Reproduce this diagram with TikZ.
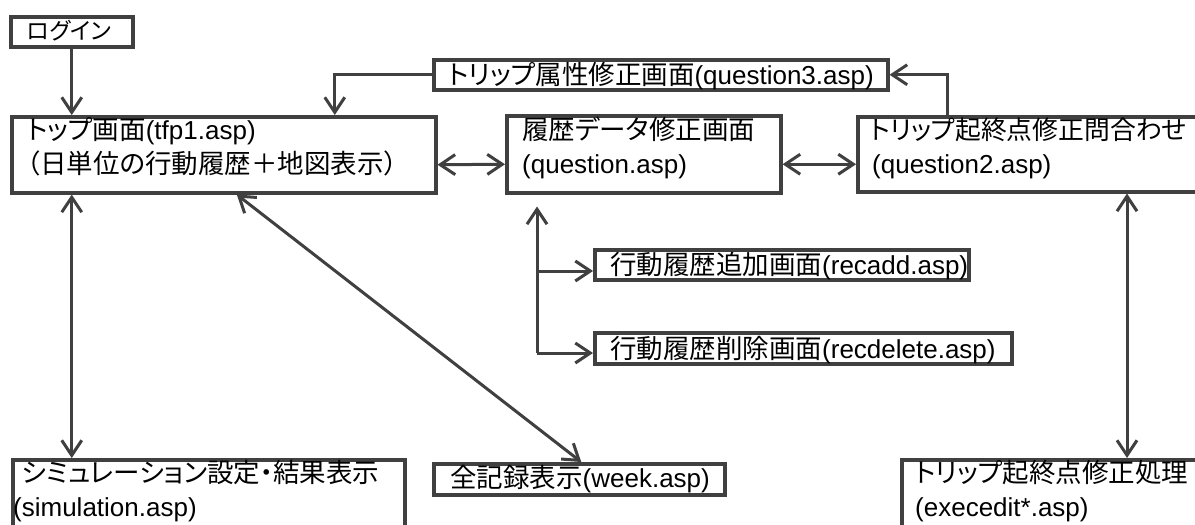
\documentclass[tikz,border=0pt]{standalone}
\usepackage{fontspec}
\setmainfont{Liberation Sans}
\newfontfamily\jp[RawFeature=+palt]{Noto Sans CJK JP}
\newcommand\JP[1]{{\fontsize{26.5}{30}\jp #1}}
\usetikzlibrary{arrows.meta}
\definecolor{ln}{HTML}{404040}
\begin{document}
\begin{tikzpicture}[x=1pt,y=-1pt,
  box/.style={draw=ln, line width=3.5pt, rectangle, inner sep=0pt, anchor=north west},
  txt/.style={anchor=base west, inner sep=0pt, font=\fontsize{26}{30}\selectfont},
  arr/.style={draw=ln, line width=3pt, -{Straight Barb[length=15pt,width=20pt,line width=3pt]}},
  darr/.style={draw=ln, line width=3pt, {Straight Barb[length=15pt,width=20pt,line width=3pt]}-{Straight Barb[length=15pt,width=20pt,line width=3pt]}}]
\useasboundingbox (0,0) rectangle (1195,525);
\clip (0,0) rectangle (1195,525);
\fill[white] (0,0) rectangle (1195,525);
% boxes
\node[box, minimum width=122pt, minimum height=30pt] (login) at (9,15) {};
\node[box, minimum width=424pt, minimum height=76pt] (top) at (10,115) {};
\node[box, minimum width=454pt, minimum height=30pt] (attr) at (432,58) {};
\node[box, minimum width=274pt, minimum height=77pt] (hist) at (505,114) {};
\node[box, minimum width=359pt, minimum height=75pt] (q2) at (856,115) {};
\node[box, minimum width=374pt, minimum height=30pt] (recadd) at (593,248) {};
\node[box, minimum width=417pt, minimum height=31pt] (recdel) at (593,331) {};
\node[box, minimum width=392pt, minimum height=90pt] (sim) at (11,458) {};
\node[box, minimum width=291pt, minimum height=31pt] (week) at (432,462) {};
\node[box, minimum width=315pt, minimum height=90pt] (exec) at (900,458) {};
% texts
\node[txt] (tlogin) at (27,39) {{\fontsize{23}{26}\jp ログイン}};
\node[txt] (ttop1) at (27,139) {\JP{トップ画面}(tfp1.asp)};
\node[txt] (ttop2) at (27,173) {\JP{（日単位の行動履歴＋地図表示）}};
\node[txt] (tattr) at (448,84) {\JP{トリップ属性修正画面}(question3.asp)};
\node[txt] (thist1) at (522,139) {\JP{履歴データ修正画面}};
\node[txt] (thist2) at (522,173) {(question.asp)};
\node[txt] (tq21) at (870,139) {{\fontsize{25.8}{30}\jp トリップ起終点修正問合わせ}};
\node[txt] (tq22) at (872,173) {(question2.asp)};
\node[txt] (trecadd) at (610,274) {\JP{行動履歴追加画面}(recadd.asp)};
\node[txt] (trecdel) at (610,358) {\JP{行動履歴削除画面}(recdelete.asp)};
\node[txt] (tsim1) at (22,482) {\JP{シミュレーション設定・結果表示}};
\node[txt] (tsim2) at (13,516) {(simulation.asp)};
\node[txt] (tweek) at (450,487) {\JP{全記録表示}(week.asp)};
\node[txt] (texec1) at (915,482) {\JP{トリップ起終点修正処理}};
\node[txt] (texec2) at (915,516) {(execedit*.asp)};
% connectors
\coordinate (b1) at (537,271);
\coordinate (b2) at (537,353);
\draw[arr] (login.south) -- (login.south |- top.north);
\draw[arr] (attr.west) -| ([xshift=111pt]top.north);
\draw[arr] ([xshift=91pt]q2.north west) |- (attr.east);
\draw[darr] ([yshift=-10pt]top.east) -- ([yshift=-10pt]hist.west);
\draw[darr] ([yshift=-10pt]hist.east) -- ([yshift=-10pt]q2.west);
\draw[arr] (b2) -- ([yshift=-12pt]hist.south -| b2);
\draw[arr] (b1) -- (b1 -| recadd.west);
\draw[arr] (b2) -- (b2 -| recdel.west);
\draw[darr] (top.south -| login.south) -- (sim.north -| login.south);
\draw[darr] ([xshift=13pt]top.south) -- ([xshift=2pt]week.north);
\draw[darr] ([xshift=271pt]q2.south west) -- ([xshift=227pt]exec.north west);
\end{tikzpicture}
\end{document}
